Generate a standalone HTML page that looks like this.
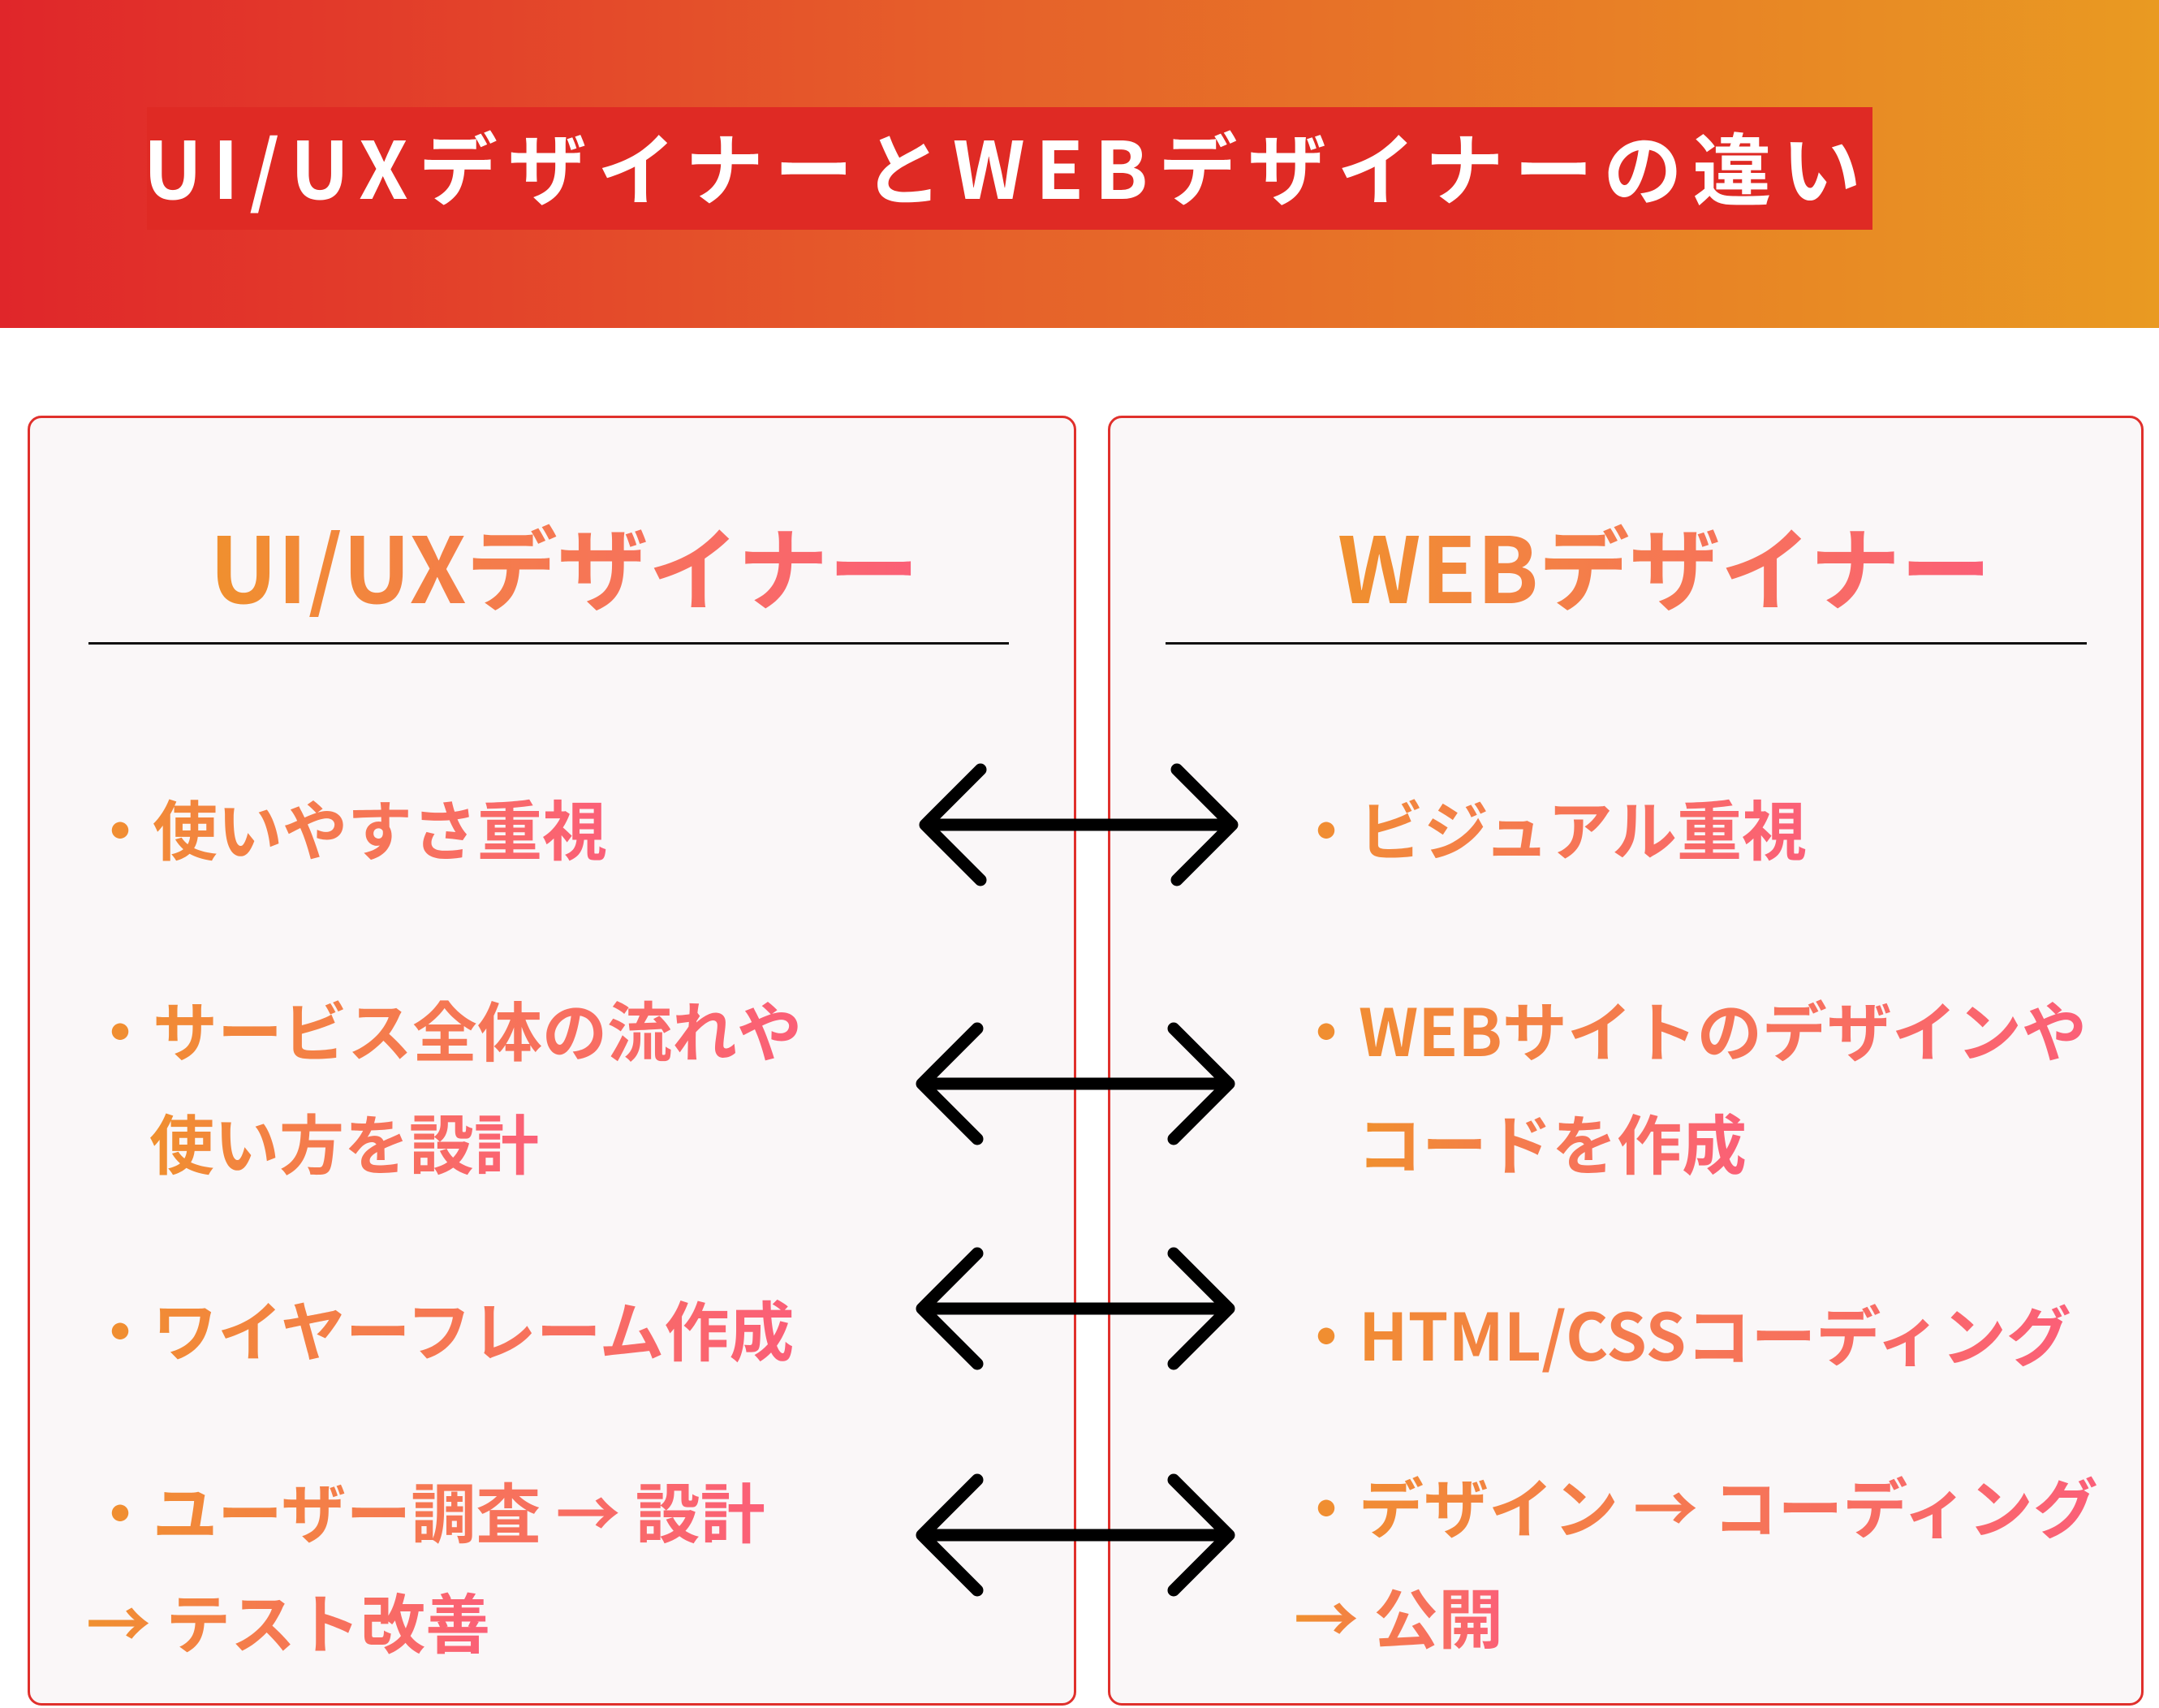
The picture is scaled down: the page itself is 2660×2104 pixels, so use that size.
<!DOCTYPE html>
<html><head><meta charset="utf-8"><style>
*{margin:0;padding:0;box-sizing:border-box}
body{width:2660px;height:2104px;background:#fff;position:relative;overflow:hidden;font-family:"Liberation Sans","Noto Sans CJK JP",sans-serif;font-weight:bold}
.hdr{position:absolute;left:0;top:0;width:2660px;height:404px;background:linear-gradient(90deg,#e0262a,#e6602a 45%,#e99a22)}
.tbox{position:absolute;left:181px;top:132px;width:2126px;height:151px;background:#df2a24;color:#fff;font-size:97px;line-height:141px;letter-spacing:13px;white-space:nowrap;font-family:"Noto Sans CJK JP",sans-serif;text-align:center;text-indent:-6px}
.panel{position:absolute;top:512px;height:1589px;border:3px solid #e0302c;border-radius:17px;background:#faf7f8}
.g{background:linear-gradient(90deg,#f0902e,#fb5f78);-webkit-background-clip:text;background-clip:text;color:transparent;font-family:"Noto Sans CJK JP",sans-serif;font-weight:bold;white-space:nowrap;position:absolute}
.ptitle{font-size:112px;line-height:130px}
.line{position:absolute;height:3px;background:#111}
.it{font-size:80px;line-height:100px}
</style></head><body>
<div class="hdr"></div>
<div class="tbox">UI/UXデザイナーとWEBデザイナーの違い</div>
<div class="panel" style="left:34px;width:1292px"></div>
<div class="panel" style="left:1365px;width:1276px"></div>
<div class="g ptitle" style="left:258px;top:630px">UI/UXデザイナー</div>
<div class="g ptitle" style="left:1648px;top:630px">WEBデザイナー</div>
<div class="line" style="left:109px;width:1134px;top:791px"></div>
<div class="line" style="left:1436px;width:1135px;top:791px"></div>

<div class="g it" style="left:108px;top:969px">・使いやすさ重視</div>
<div class="g it" style="left:108px;top:1217px">・サービス全体の流れや</div>
<div class="g it" style="left:184px;top:1356px">使い方を設計</div>
<div class="g it" style="left:108px;top:1586px">・ワイヤーフレーム作成</div>
<div class="g it" style="left:108px;top:1810px">・ユーザー調査 → 設計</div>
<div class="g it" style="left:106px;top:1946px">→ テスト改善</div>

<div class="g it" style="left:1594px;top:969px">・ビジュアル重視</div>
<div class="g it" style="left:1594px;top:1217px">・WEBサイトのデザインや</div>
<div class="g it" style="left:1672px;top:1356px">コードを作成</div>
<div class="g it" style="left:1594px;top:1592px">・HTML/CSSコーディング</div>
<div class="g it" style="left:1594px;top:1804px">・デザイン → コーディング</div>
<div class="g it" style="left:1594px;top:1940px">→ 公開</div>

<svg width="2660" height="2104" style="position:absolute;left:0;top:0" fill="none" stroke="#000" stroke-width="15" stroke-linecap="round" stroke-linejoin="round">
<g transform="translate(0,1016)"><path d="M1140 0H1518M1208-68L1140 0L1208 68M1450-68L1518 0L1450 68"/></g>
<g transform="translate(0,1335)"><path d="M1136 0H1514M1204-68L1136 0L1204 68M1446-68L1514 0L1446 68"/></g>
<g transform="translate(0,1612)"><path d="M1136 0H1514M1204-68L1136 0L1204 68M1446-68L1514 0L1446 68"/></g>
<g transform="translate(0,1891)"><path d="M1136 0H1514M1204-68L1136 0L1204 68M1446-68L1514 0L1446 68"/></g>
</svg>
</body></html>
